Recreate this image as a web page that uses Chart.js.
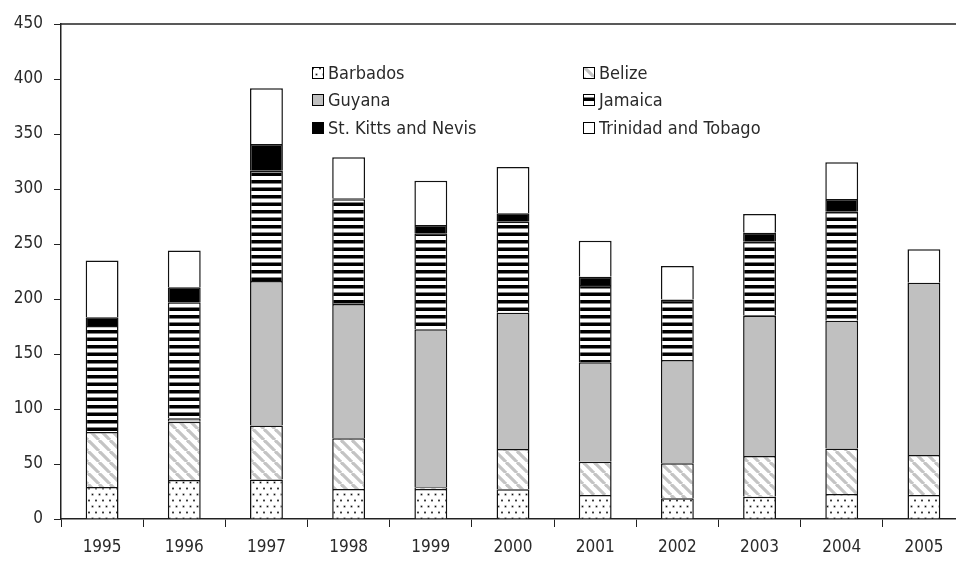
<!DOCTYPE html>
<html>
<head>
<meta charset="utf-8">
<script src="https://cdn.jsdelivr.net/npm/chart.js@4.4.1/dist/chart.umd.min.js"></script>
<style>
    html, body { margin: 0; padding: 0; background: #fff; overflow: hidden; }
    #wrap { position: relative; width: 968px; height: 563px; }
</style>
</head>
<body>
<div id="wrap"><canvas id="exportsChart"></canvas></div>
<script>
// 数据
const years = ['1995', '1996', '1997', '1998', '1999', '2000', '2001', '2002', '2003', '2004', '2005'];
const barbados = [29, 35.5, 36, 27.3, 27.3, 27, 21.8, 18.8, 20.3, 22.7, 21.8];
const belize   = [50, 53, 49, 46, 1.5, 36.6, 30.2, 31.8, 37, 41.5, 36.4];
const guyana   = [0, 3, 131.4, 122.2, 143.6, 124, 90.4, 93.9, 127.5, 116.1, 156.6];
const jamaica  = [96.5, 105.5, 100.2, 95.1, 87.3, 82.7, 70.3, 54.5, 67.3, 99.1, 0];
const stKitts  = [8, 13.6, 24.4, 1, 7.6, 7.6, 7.6, 0.5, 8.2, 11.6, 0];
const trinidad = [51.5, 33.4, 50.5, 37.2, 40.3, 42, 32.7, 30.4, 17, 33.3, 30.4];
const seriesNames = ['Barbados', 'Belize', 'Guyana', 'Jamaica', 'St. Kitts and Nevis', 'Trinidad and Tobago'];
const yTicks = [0, 50, 100, 150, 200, 250, 300, 350, 400, 450];

// 字体：DejaVu Sans 的窄体
const FONT = '"DejaVu Sans", sans-serif';
const STRETCH = 'normal condensed';
const TEXT = '#2a2a2a';

// 图案填充
function makeTile(w, h, draw) {
    const c = document.createElement('canvas');
    c.width = w; c.height = h;
    const g = c.getContext('2d');
    g.fillStyle = '#fff';
    g.fillRect(0, 0, w, h);
    draw(g);
    return document.createElement('canvas').getContext('2d').createPattern(c, 'repeat');
}

const dotPattern = makeTile(7, 12, g => {
    g.fillStyle = '#666';
    g.fillRect(0.5, 1.5, 2, 2);
    g.fillRect(4, 7.5, 2, 2);
    g.fillStyle = '#111';
    g.fillRect(1, 2, 1, 1);
    g.fillRect(4.5, 8, 1, 1);
});

const diagPattern = makeTile(11, 11, g => {
    g.strokeStyle = '#c4c4c4';
    g.lineWidth = 3.2;
    [-11, 0, 11].forEach(k => {
        g.beginPath();
        g.moveTo(k, 0);
        g.lineTo(k + 11, 11);
        g.stroke();
    });
});

const stripePattern = makeTile(4, 15, g => {
    g.fillStyle = '#000';
    g.fillRect(0, 0, 4, 3.5);
    g.fillRect(0, 7.5, 4, 3.5);
});

const fills = [dotPattern, diagPattern, '#c0c0c0', stripePattern, '#000', '#fff'];
const seriesData = [barbados, belize, guyana, jamaica, stKitts, trinidad];

// 图例和上边框
const legendPlugin = {
    id: 'boxLegend',
    afterDraw(chart) {
        const ctx = chart.ctx;
        const area = chart.chartArea;
        ctx.save();
        ctx.strokeStyle = '#222';
        ctx.lineWidth = 1.5;
        ctx.beginPath();
        ctx.moveTo(area.left, area.top);
        ctx.lineTo(area.right, area.top);
        ctx.stroke();

        const colX = [312, 583];
        const rowY = [73, 100, 128];
        ctx.font = STRETCH + ' 18px ' + FONT;
        ctx.textBaseline = 'middle';
        chart.data.datasets.forEach((ds, i) => {
            const x = colX[i % 2];
            const y = rowY[Math.floor(i / 2)];
            ctx.fillStyle = ds.backgroundColor;
            ctx.fillRect(x, y - 6, 12, 12);
            ctx.strokeStyle = '#000';
            ctx.lineWidth = 1;
            ctx.strokeRect(x + 0.5, y - 5.5, 11, 11);
            ctx.fillStyle = TEXT;
            ctx.fillText(ds.label, x + 16, y + 1);
        });
        ctx.restore();
    }
};

const tickFont = { family: FONT, size: 17, weight: STRETCH };

new Chart(document.getElementById('exportsChart'), {
    type: 'bar',
    data: {
        labels: years,
        datasets: seriesNames.map((name, i) => ({
            label: name,
            data: seriesData[i],
            backgroundColor: fills[i],
            borderColor: '#111',
            borderWidth: 1.5,
            barPercentage: 0.4,
            categoryPercentage: 1
        }))
    },
    options: {
        responsive: true,
        maintainAspectRatio: false,
        animation: false,
        layout: { padding: { top: 24, right: 3, left: 0, bottom: 0 } },
        plugins: {
            legend: { display: false },
            tooltip: { enabled: false }
        },
        scales: {
            x: {
                stacked: true,
                afterFit: s => { s.height = 44; },
                grid: { drawOnChartArea: false, offset: true, tickLength: 8, color: '#222', lineWidth: 1 },
                border: { color: '#222', width: 1.5 },
                ticks: { color: TEXT, font: tickFont, padding: 10, maxRotation: 0 }
            },
            y: {
                stacked: true,
                min: 0,
                max: 450,
                afterFit: s => { s.width = 61; },
                afterBuildTicks: s => { s.ticks = yTicks.map(v => ({ value: v })); },
                grid: { drawOnChartArea: false, tickLength: 7, color: '#222', lineWidth: 1 },
                border: { color: '#222', width: 1.5 },
                ticks: { color: TEXT, font: tickFont, padding: 11 }
            }
        }
    },
    plugins: [legendPlugin]
});
</script>
</body>
</html>
